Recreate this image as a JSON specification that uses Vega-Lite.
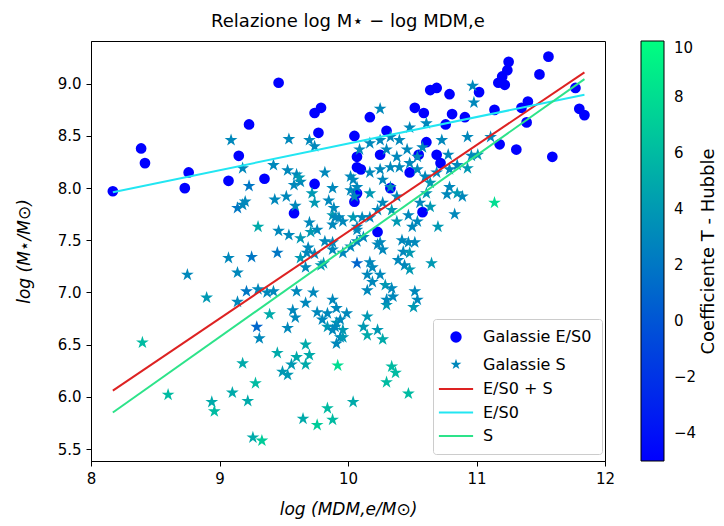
{
"$schema": "https://vega.github.io/schema/vega-lite/v6.json",
"width": 514, "height": 420,
"autosize": "none",
"padding": {"left": 91, "top": 41, "right": 119, "bottom": 65},
"background": "white",
"config": {
  "font": "DejaVu Sans",
  "view": {"stroke": "black", "strokeWidth": 1},
  "axis": {"labelFont": "DejaVu Sans", "titleFont": "DejaVu Sans", "labelColor": "black", "titleColor": "black", "tickColor": "black", "domainColor": "black", "grid": false, "labelFontSize": 15, "titleFontSize": 17, "titleFontWeight": "normal", "tickSize": 5, "labelPadding": 5},
  "legend": {"labelFont": "DejaVu Sans", "titleFont": "DejaVu Sans", "labelColor": "black", "titleColor": "black"}
},
"title": {"text": "Relazione log M⋆ − log MDM,e", "fontSize": 18, "fontWeight": "normal", "font": "DejaVu Sans", "color": "black", "offset": 10, "anchor": "middle"},
"resolve": {"scale": {"y": "independent", "fill": "independent", "shape": "independent", "stroke": "independent"}},
"datasets": {
"pts": [
{"type":"Galassie E/S0","x":8.17,"y":7.97,"T":-5},
{"type":"Galassie E/S0","x":8.39,"y":8.38,"T":-5},
{"type":"Galassie E/S0","x":8.42,"y":8.24,"T":-5},
{"type":"Galassie E/S0","x":8.73,"y":8.0,"T":-5},
{"type":"Galassie E/S0","x":8.76,"y":8.15,"T":-5},
{"type":"Galassie E/S0","x":9.07,"y":8.07,"T":-5},
{"type":"Galassie E/S0","x":9.15,"y":8.31,"T":-5},
{"type":"Galassie E/S0","x":9.23,"y":8.61,"T":-5},
{"type":"Galassie E/S0","x":9.35,"y":8.09,"T":-5},
{"type":"Galassie E/S0","x":9.46,"y":9.01,"T":-5},
{"type":"Galassie E/S0","x":9.58,"y":7.76,"T":-5},
{"type":"Galassie E/S0","x":9.74,"y":8.72,"T":-5},
{"type":"Galassie E/S0","x":9.79,"y":8.77,"T":-5},
{"type":"Galassie E/S0","x":9.77,"y":8.53,"T":-5},
{"type":"Galassie E/S0","x":9.74,"y":8.04,"T":-5},
{"type":"Galassie E/S0","x":10.05,"y":8.5,"T":-5},
{"type":"Galassie E/S0","x":10.07,"y":8.3,"T":-5},
{"type":"Galassie E/S0","x":10.07,"y":8.2,"T":-5},
{"type":"Galassie E/S0","x":10.05,"y":7.87,"T":-5},
{"type":"Galassie E/S0","x":10.07,"y":7.95,"T":-5},
{"type":"Galassie E/S0","x":10.17,"y":8.68,"T":-5},
{"type":"Galassie E/S0","x":10.3,"y":8.55,"T":-5},
{"type":"Galassie E/S0","x":10.23,"y":7.58,"T":-5},
{"type":"Galassie E/S0","x":10.1,"y":8.18,"T":-5},
{"type":"Galassie E/S0","x":10.48,"y":8.15,"T":-5},
{"type":"Galassie E/S0","x":10.52,"y":8.77,"T":-5},
{"type":"Galassie E/S0","x":10.59,"y":8.72,"T":-5},
{"type":"Galassie E/S0","x":10.64,"y":8.94,"T":-5},
{"type":"Galassie E/S0","x":10.69,"y":8.96,"T":-5},
{"type":"Galassie E/S0","x":10.79,"y":8.9,"T":-5},
{"type":"Galassie E/S0","x":10.81,"y":8.71,"T":-5},
{"type":"Galassie E/S0","x":10.91,"y":8.68,"T":-5},
{"type":"Galassie E/S0","x":10.76,"y":8.61,"T":-5},
{"type":"Galassie E/S0","x":10.61,"y":8.44,"T":-5},
{"type":"Galassie E/S0","x":10.55,"y":8.32,"T":-5},
{"type":"Galassie E/S0","x":10.69,"y":8.32,"T":-5},
{"type":"Galassie E/S0","x":10.72,"y":8.24,"T":-5},
{"type":"Galassie E/S0","x":10.33,"y":8.0,"T":-5},
{"type":"Galassie E/S0","x":10.58,"y":7.77,"T":-5},
{"type":"Galassie E/S0","x":11.02,"y":8.92,"T":-5},
{"type":"Galassie E/S0","x":11.14,"y":8.75,"T":-5},
{"type":"Galassie E/S0","x":11.17,"y":9.01,"T":-5},
{"type":"Galassie E/S0","x":11.2,"y":9.07,"T":-5},
{"type":"Galassie E/S0","x":11.24,"y":9.13,"T":-5},
{"type":"Galassie E/S0","x":11.25,"y":9.21,"T":-5},
{"type":"Galassie E/S0","x":11.22,"y":8.99,"T":-5},
{"type":"Galassie E/S0","x":11.49,"y":9.09,"T":-5},
{"type":"Galassie E/S0","x":11.56,"y":9.26,"T":-5},
{"type":"Galassie E/S0","x":11.77,"y":8.96,"T":-5},
{"type":"Galassie E/S0","x":11.8,"y":8.76,"T":-5},
{"type":"Galassie E/S0","x":11.84,"y":8.7,"T":-5},
{"type":"Galassie E/S0","x":11.35,"y":8.77,"T":-5},
{"type":"Galassie E/S0","x":11.4,"y":8.83,"T":-5},
{"type":"Galassie E/S0","x":11.39,"y":8.63,"T":-5},
{"type":"Galassie E/S0","x":11.18,"y":8.42,"T":-5},
{"type":"Galassie E/S0","x":11.31,"y":8.37,"T":-5},
{"type":"Galassie E/S0","x":11.59,"y":8.3,"T":-5},
{"type":"Galassie E/S0","x":10.25,"y":8.32,"T":-5},
{"type":"Galassie S","x":9.09,"y":8.46,"T":3},
{"type":"Galassie S","x":9.54,"y":8.47,"T":3},
{"type":"Galassie S","x":9.7,"y":8.46,"T":3},
{"type":"Galassie S","x":9.74,"y":8.4,"T":3},
{"type":"Galassie S","x":9.18,"y":8.19,"T":3},
{"type":"Galassie S","x":9.42,"y":8.22,"T":3},
{"type":"Galassie S","x":9.23,"y":8.02,"T":2},
{"type":"Galassie S","x":9.53,"y":8.17,"T":3},
{"type":"Galassie S","x":9.6,"y":8.13,"T":3},
{"type":"Galassie S","x":9.63,"y":8.06,"T":3},
{"type":"Galassie S","x":9.58,"y":8.03,"T":3},
{"type":"Galassie S","x":9.62,"y":8.1,"T":4},
{"type":"Galassie S","x":9.82,"y":8.15,"T":3},
{"type":"Galassie S","x":9.88,"y":8.0,"T":3},
{"type":"Galassie S","x":10.02,"y":8.11,"T":3},
{"type":"Galassie S","x":9.14,"y":7.81,"T":2},
{"type":"Galassie S","x":9.18,"y":7.84,"T":3},
{"type":"Galassie S","x":9.2,"y":7.87,"T":3},
{"type":"Galassie S","x":9.43,"y":7.89,"T":3},
{"type":"Galassie S","x":9.52,"y":7.92,"T":3},
{"type":"Galassie S","x":9.59,"y":7.83,"T":3},
{"type":"Galassie S","x":9.72,"y":7.95,"T":4},
{"type":"Galassie S","x":9.74,"y":7.86,"T":4},
{"type":"Galassie S","x":9.85,"y":7.88,"T":3},
{"type":"Galassie S","x":9.89,"y":7.81,"T":3},
{"type":"Galassie S","x":9.93,"y":7.72,"T":3},
{"type":"Galassie S","x":9.88,"y":7.74,"T":4},
{"type":"Galassie S","x":9.3,"y":7.63,"T":5},
{"type":"Galassie S","x":9.46,"y":7.59,"T":3},
{"type":"Galassie S","x":9.54,"y":7.55,"T":3},
{"type":"Galassie S","x":9.63,"y":7.52,"T":4},
{"type":"Galassie S","x":9.7,"y":7.67,"T":3},
{"type":"Galassie S","x":9.76,"y":7.6,"T":3},
{"type":"Galassie S","x":9.71,"y":7.58,"T":4},
{"type":"Galassie S","x":10.04,"y":8.08,"T":3},
{"type":"Galassie S","x":10.02,"y":7.98,"T":3},
{"type":"Galassie S","x":10.05,"y":7.92,"T":3},
{"type":"Galassie S","x":10.04,"y":7.72,"T":4},
{"type":"Galassie S","x":10.07,"y":7.63,"T":3},
{"type":"Galassie S","x":9.45,"y":7.38,"T":2},
{"type":"Galassie S","x":9.07,"y":7.33,"T":3},
{"type":"Galassie S","x":9.25,"y":7.34,"T":2},
{"type":"Galassie S","x":9.69,"y":7.43,"T":3},
{"type":"Galassie S","x":9.74,"y":7.37,"T":3},
{"type":"Galassie S","x":9.82,"y":7.49,"T":3},
{"type":"Galassie S","x":9.88,"y":7.41,"T":3},
{"type":"Galassie S","x":9.14,"y":7.19,"T":3},
{"type":"Galassie S","x":8.9,"y":6.95,"T":4},
{"type":"Galassie S","x":9.21,"y":7.01,"T":2},
{"type":"Galassie S","x":9.3,"y":7.03,"T":3},
{"type":"Galassie S","x":9.37,"y":7.0,"T":3},
{"type":"Galassie S","x":9.42,"y":7.01,"T":3},
{"type":"Galassie S","x":9.14,"y":6.91,"T":3},
{"type":"Galassie S","x":9.63,"y":7.33,"T":4},
{"type":"Galassie S","x":9.68,"y":7.38,"T":3},
{"type":"Galassie S","x":9.67,"y":7.24,"T":3},
{"type":"Galassie S","x":9.79,"y":7.26,"T":4},
{"type":"Galassie S","x":9.6,"y":7.01,"T":3},
{"type":"Galassie S","x":9.73,"y":7.0,"T":3},
{"type":"Galassie S","x":9.67,"y":6.9,"T":3},
{"type":"Galassie S","x":9.39,"y":6.79,"T":5},
{"type":"Galassie S","x":9.29,"y":6.67,"T":1},
{"type":"Galassie S","x":9.31,"y":6.56,"T":3},
{"type":"Galassie S","x":9.53,"y":6.66,"T":3},
{"type":"Galassie S","x":9.57,"y":6.83,"T":3},
{"type":"Galassie S","x":9.59,"y":6.76,"T":3},
{"type":"Galassie S","x":9.76,"y":6.81,"T":3},
{"type":"Galassie S","x":9.8,"y":6.74,"T":3},
{"type":"Galassie S","x":9.84,"y":6.8,"T":3},
{"type":"Galassie S","x":9.84,"y":6.67,"T":4},
{"type":"Galassie S","x":9.88,"y":6.64,"T":3},
{"type":"Galassie S","x":9.91,"y":6.71,"T":4},
{"type":"Galassie S","x":9.88,"y":6.93,"T":3},
{"type":"Galassie S","x":9.91,"y":6.85,"T":3},
{"type":"Galassie S","x":9.18,"y":6.32,"T":5},
{"type":"Galassie S","x":9.45,"y":6.42,"T":5},
{"type":"Galassie S","x":9.6,"y":6.38,"T":5},
{"type":"Galassie S","x":9.67,"y":6.5,"T":5},
{"type":"Galassie S","x":9.7,"y":6.4,"T":5},
{"type":"Galassie S","x":9.67,"y":6.31,"T":5},
{"type":"Galassie S","x":9.56,"y":6.31,"T":4},
{"type":"Galassie S","x":9.49,"y":6.24,"T":4},
{"type":"Galassie S","x":9.53,"y":6.21,"T":4},
{"type":"Galassie S","x":9.92,"y":6.3,"T":8},
{"type":"Galassie S","x":9.28,"y":6.13,"T":6},
{"type":"Galassie S","x":9.1,"y":6.04,"T":5},
{"type":"Galassie S","x":9.22,"y":5.96,"T":5},
{"type":"Galassie S","x":8.94,"y":5.95,"T":5},
{"type":"Galassie S","x":8.96,"y":5.86,"T":6},
{"type":"Galassie S","x":9.84,"y":5.89,"T":6},
{"type":"Galassie S","x":9.65,"y":5.79,"T":5},
{"type":"Galassie S","x":9.76,"y":5.73,"T":7},
{"type":"Galassie S","x":9.88,"y":5.78,"T":6},
{"type":"Galassie S","x":9.26,"y":5.61,"T":5},
{"type":"Galassie S","x":9.33,"y":5.58,"T":7},
{"type":"Galassie S","x":8.75,"y":7.17,"T":3},
{"type":"Galassie S","x":8.4,"y":6.52,"T":6},
{"type":"Galassie S","x":8.6,"y":6.02,"T":6},
{"type":"Galassie S","x":9.96,"y":6.64,"T":4},
{"type":"Galassie S","x":9.94,"y":6.57,"T":3},
{"type":"Galassie S","x":9.99,"y":6.8,"T":3},
{"type":"Galassie S","x":9.81,"y":7.28,"T":4},
{"type":"Galassie S","x":9.88,"y":7.48,"T":3},
{"type":"Galassie S","x":10.07,"y":7.28,"T":1},
{"type":"Galassie S","x":10.04,"y":5.95,"T":5},
{"type":"Galassie S","x":9.9,"y":7.72,"T":3},
{"type":"Galassie S","x":9.96,"y":7.68,"T":3},
{"type":"Galassie S","x":9.88,"y":7.65,"T":3},
{"type":"Galassie S","x":10.11,"y":7.72,"T":3},
{"type":"Galassie S","x":10.38,"y":7.68,"T":4},
{"type":"Galassie S","x":10.5,"y":7.63,"T":3},
{"type":"Galassie S","x":10.54,"y":7.68,"T":3},
{"type":"Galassie S","x":10.7,"y":7.63,"T":4},
{"type":"Galassie S","x":10.83,"y":7.75,"T":3},
{"type":"Galassie S","x":10.07,"y":7.49,"T":3},
{"type":"Galassie S","x":10.12,"y":7.53,"T":3},
{"type":"Galassie S","x":10.02,"y":7.44,"T":3},
{"type":"Galassie S","x":9.96,"y":7.38,"T":3},
{"type":"Galassie S","x":10.23,"y":7.46,"T":3},
{"type":"Galassie S","x":10.27,"y":7.41,"T":3},
{"type":"Galassie S","x":10.25,"y":7.48,"T":3},
{"type":"Galassie S","x":10.42,"y":7.5,"T":3},
{"type":"Galassie S","x":10.47,"y":7.48,"T":3},
{"type":"Galassie S","x":10.52,"y":7.48,"T":3},
{"type":"Galassie S","x":10.43,"y":7.39,"T":3},
{"type":"Galassie S","x":10.48,"y":7.38,"T":4},
{"type":"Galassie S","x":10.39,"y":7.31,"T":3},
{"type":"Galassie S","x":10.44,"y":7.26,"T":3},
{"type":"Galassie S","x":10.48,"y":7.22,"T":4},
{"type":"Galassie S","x":10.17,"y":7.29,"T":3},
{"type":"Galassie S","x":10.19,"y":7.24,"T":3},
{"type":"Galassie S","x":10.15,"y":7.17,"T":3},
{"type":"Galassie S","x":10.19,"y":7.1,"T":3},
{"type":"Galassie S","x":10.15,"y":7.02,"T":3},
{"type":"Galassie S","x":10.25,"y":7.17,"T":3},
{"type":"Galassie S","x":10.29,"y":7.07,"T":4},
{"type":"Galassie S","x":10.34,"y":7.04,"T":3},
{"type":"Galassie S","x":10.3,"y":6.88,"T":4},
{"type":"Galassie S","x":10.35,"y":6.96,"T":3},
{"type":"Galassie S","x":10.65,"y":7.28,"T":4},
{"type":"Galassie S","x":10.52,"y":7.01,"T":3},
{"type":"Galassie S","x":10.54,"y":6.93,"T":3},
{"type":"Galassie S","x":10.51,"y":6.86,"T":4},
{"type":"Galassie S","x":9.94,"y":6.74,"T":3},
{"type":"Galassie S","x":9.9,"y":6.67,"T":3},
{"type":"Galassie S","x":9.96,"y":6.57,"T":4},
{"type":"Galassie S","x":9.91,"y":6.51,"T":3},
{"type":"Galassie S","x":10.15,"y":6.77,"T":4},
{"type":"Galassie S","x":10.12,"y":6.67,"T":4},
{"type":"Galassie S","x":10.15,"y":6.59,"T":5},
{"type":"Galassie S","x":10.23,"y":6.64,"T":4},
{"type":"Galassie S","x":10.27,"y":6.55,"T":5},
{"type":"Galassie S","x":10.34,"y":6.29,"T":6},
{"type":"Galassie S","x":10.37,"y":6.23,"T":6},
{"type":"Galassie S","x":10.3,"y":6.14,"T":6},
{"type":"Galassie S","x":10.47,"y":6.03,"T":6},
{"type":"Galassie S","x":10.3,"y":6.93,"T":3},
{"type":"Galassie S","x":10.25,"y":8.76,"T":3},
{"type":"Galassie S","x":10.48,"y":8.58,"T":3},
{"type":"Galassie S","x":10.97,"y":8.98,"T":3},
{"type":"Galassie S","x":10.98,"y":8.82,"T":3},
{"type":"Galassie S","x":10.93,"y":8.49,"T":3},
{"type":"Galassie S","x":10.73,"y":8.46,"T":3},
{"type":"Galassie S","x":10.61,"y":8.62,"T":3},
{"type":"Galassie S","x":10.78,"y":8.32,"T":3},
{"type":"Galassie S","x":10.93,"y":8.19,"T":4},
{"type":"Galassie S","x":10.4,"y":8.46,"T":3},
{"type":"Galassie S","x":10.46,"y":8.37,"T":3},
{"type":"Galassie S","x":10.54,"y":8.3,"T":3},
{"type":"Galassie S","x":10.58,"y":8.39,"T":3},
{"type":"Galassie S","x":11.11,"y":8.49,"T":3},
{"type":"Galassie S","x":11.01,"y":8.32,"T":4},
{"type":"Galassie S","x":10.85,"y":8.22,"T":3},
{"type":"Galassie S","x":10.79,"y":8.18,"T":3},
{"type":"Galassie S","x":10.6,"y":8.11,"T":3},
{"type":"Galassie S","x":10.69,"y":8.15,"T":3},
{"type":"Galassie S","x":10.64,"y":8.05,"T":4},
{"type":"Galassie S","x":10.79,"y":8.01,"T":3},
{"type":"Galassie S","x":10.85,"y":7.95,"T":4},
{"type":"Galassie S","x":10.89,"y":7.92,"T":3},
{"type":"Galassie S","x":10.77,"y":7.94,"T":3},
{"type":"Galassie S","x":10.61,"y":7.95,"T":4},
{"type":"Galassie S","x":10.56,"y":7.86,"T":3},
{"type":"Galassie S","x":10.64,"y":7.82,"T":4},
{"type":"Galassie S","x":11.14,"y":7.86,"T":8},
{"type":"Galassie S","x":10.47,"y":7.74,"T":3},
{"type":"Galassie S","x":10.34,"y":7.79,"T":4},
{"type":"Galassie S","x":10.23,"y":7.79,"T":3},
{"type":"Galassie S","x":10.17,"y":7.72,"T":3},
{"type":"Galassie S","x":10.07,"y":7.6,"T":3},
{"type":"Galassie S","x":10.07,"y":8.01,"T":3},
{"type":"Galassie S","x":10.17,"y":8.15,"T":3},
{"type":"Galassie S","x":10.25,"y":8.18,"T":3},
{"type":"Galassie S","x":10.33,"y":8.2,"T":3},
{"type":"Galassie S","x":10.27,"y":8.08,"T":3},
{"type":"Galassie S","x":10.33,"y":8.01,"T":3},
{"type":"Galassie S","x":10.38,"y":7.92,"T":3},
{"type":"Galassie S","x":10.17,"y":7.95,"T":4},
{"type":"Galassie S","x":10.27,"y":7.86,"T":3},
{"type":"Galassie S","x":10.09,"y":8.37,"T":3},
{"type":"Galassie S","x":10.17,"y":8.43,"T":3},
{"type":"Galassie S","x":10.25,"y":8.46,"T":3},
{"type":"Galassie S","x":10.33,"y":8.49,"T":3},
{"type":"Galassie S","x":10.3,"y":8.37,"T":3},
{"type":"Galassie S","x":10.38,"y":8.3,"T":3},
{"type":"Galassie S","x":10.4,"y":8.2,"T":3},
{"type":"Galassie S","x":10.48,"y":8.24,"T":3},
{"type":"Galassie S","x":10.54,"y":8.18,"T":3},
{"type":"Galassie S","x":10.96,"y":8.31,"T":3}
],
"fits": [
{"fit":"E/S0 + S","x":8.17,"y":6.06},
{"fit":"E/S0 + S","x":11.84,"y":9.11},
{"fit":"E/S0","x":8.17,"y":7.96},
{"fit":"E/S0","x":11.84,"y":8.895},
{"fit":"S","x":8.17,"y":5.85},
{"fit":"S","x":11.84,"y":9.045}
],
"keys": [
{"type":"Galassie E/S0","x":10,"y":0.5},
{"type":"Galassie S","x":10,"y":0.5},
{"type":"E/S0 + S","x":10,"y":0.5},
{"type":"E/S0","x":10,"y":0.5},
{"type":"S","x":10,"y":0.5}
]
},
"layer": [
{
  "data": {"name": "pts"},
  "mark": {"type": "point", "filled": true, "opacity": 1, "strokeWidth": 0},
  "encoding": {
    "x": {"field": "x", "type": "quantitative", "scale": {"domain": [8, 12], "nice": false, "zero": false},
      "axis": {"title": "log (MDM,e/M⊙)", "titleFontStyle": "italic", "values": [8, 9, 10, 11, 12], "format": "d", "titlePadding": 15, "labelFlush": false}},
    "y": {"field": "y", "type": "quantitative", "scale": {"domain": [5.385, 9.41], "nice": false, "zero": false},
      "axis": {"title": "log (M⋆/M⊙)", "titleFontStyle": "italic", "values": [5.5, 6, 6.5, 7, 7.5, 8, 8.5, 9], "format": ".1f", "titlePadding": 24, "labelFlush": false}},
    "fill": {"field": "T", "type": "quantitative",
      "scale": {"domain": [-5, 10], "range": ["#0000ff", "#00ff80"], "interpolate": "rgb"},
      "legend": {"orient": "none", "legendX": 550, "legendY": 0, "direction": "vertical", "gradientLength": 420, "gradientThickness": 23, "gradientStrokeColor": "black", "gradientStrokeWidth": 1, "values": [-4, -2, 0, 2, 4, 6, 8, 10], "labelFontSize": 15, "labelOffset": 10, "labelOverlap": false, "title": null}},
    "shape": {"field": "type", "type": "nominal",
      "scale": {"domain": ["Galassie E/S0", "Galassie S"], "range": ["circle", "M0,-1L0.225,-0.309L0.951,-0.309L0.363,0.118L0.588,0.809L0,0.382L-0.588,0.809L-0.363,0.118L-0.951,-0.309L-0.225,-0.309Z"]},
      "legend": null},
    "size": {"condition": {"test": "datum.type === 'Galassie S'", "value": 180}, "value": 115}
  }
},
{
  "data": {"name": "fits"},
  "mark": {"type": "line", "strokeWidth": 2},
  "encoding": {
    "x": {"field": "x", "type": "quantitative"},
    "y": {"field": "y", "type": "quantitative", "scale": {"domain": [5.385, 9.41], "nice": false, "zero": false}, "axis": null},
    "stroke": {"field": "fit", "type": "nominal", "scale": {"domain": ["E/S0 + S", "E/S0", "S"], "range": ["#dd2222", "#22e6f2", "#2de38a"]}, "legend": null}
  }
},
{
  "data": {"name": "keys"},
  "mark": {"type": "point", "filled": true, "opacity": 0, "strokeWidth": 2, "size": 130},
  "encoding": {
    "x": {"field": "x", "type": "quantitative"},
    "y": {"field": "y", "type": "quantitative", "scale": {"domain": [0, 1]},
      "axis": {"orient": "right", "offset": 94, "domain": false, "ticks": false, "labels": false, "grid": false, "title": "Coefficiente T - Hubble", "titleAngle": 270, "titleBaseline": "top", "titlePadding": 0, "titleFontSize": 18, "titleFontStyle": "normal"}},
    "fill": {"field": "type", "type": "nominal",
      "scale": {"domain": ["Galassie E/S0", "Galassie S", "E/S0 + S", "E/S0", "S"], "range": ["#0000ff", "#0088bb", "transparent", "transparent", "transparent"]},
      "legend": {"title": null, "orient": "none", "legendX": 342, "legendY": 278, "padding": 10, "strokeColor": "#cccccc", "fillColor": "white", "cornerRadius": 3, "labelFontSize": 16, "symbolSize": 130, "symbolOpacity": 1, "symbolStrokeWidth": 2, "rowPadding": 7.5, "symbolOffset": 5, "labelOffset": 19}},
    "stroke": {"field": "type", "type": "nominal",
      "scale": {"domain": ["Galassie E/S0", "Galassie S", "E/S0 + S", "E/S0", "S"], "range": ["transparent", "transparent", "#dd2222", "#22e6f2", "#2de38a"]},
      "legend": {"title": null, "orient": "none", "legendX": 342, "legendY": 278, "padding": 10, "strokeColor": "#cccccc", "fillColor": "white", "cornerRadius": 3, "labelFontSize": 16, "symbolSize": 130, "symbolOpacity": 1, "symbolStrokeWidth": 2, "rowPadding": 7.5, "symbolOffset": 5, "labelOffset": 19}},
    "shape": {"field": "type", "type": "nominal",
      "scale": {"domain": ["Galassie E/S0", "Galassie S", "E/S0 + S", "E/S0", "S"], "range": ["circle", "M0,-1L0.225,-0.309L0.951,-0.309L0.363,0.118L0.588,0.809L0,0.382L-0.588,0.809L-0.363,0.118L-0.951,-0.309L-0.225,-0.309Z", "M-3,0L3,0", "M-3,0L3,0", "M-3,0L3,0"]},
      "legend": {"title": null, "orient": "none", "legendX": 342, "legendY": 278, "padding": 10, "strokeColor": "#cccccc", "fillColor": "white", "cornerRadius": 3, "labelFontSize": 16, "symbolSize": 130, "symbolOpacity": 1, "symbolStrokeWidth": 2, "rowPadding": 7.5, "symbolOffset": 5, "labelOffset": 19}}
  }
}
]
}
